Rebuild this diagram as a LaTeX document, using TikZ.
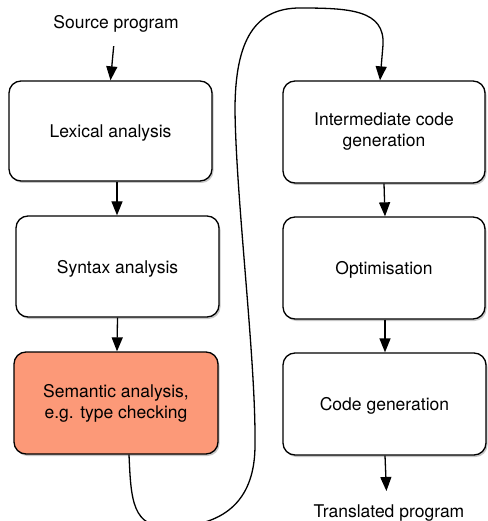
\documentclass[tikz,border=0pt]{standalone}
\usepackage{fontspec}
\setmainfont{TeX Gyre Heros}
\usetikzlibrary{arrows.meta,shadows}
\definecolor{salmon}{RGB}{252,153,120}
\begin{document}
\begin{tikzpicture}[x=1pt,y=-1pt,
  stagebox/.style={draw=black, line width=1.3pt, rounded corners=12pt, fill=white,
    align=center, font=\fontsize{17.5}{21}\selectfont, inner sep=0pt,
    execute at begin node={\rule{0pt}{17pt}},
    drop shadow={shadow xshift=1.5pt, shadow yshift=-2pt, fill=black, opacity=0.22}},
  lbl/.style={font=\fontsize{17.5}{21}\selectfont, inner sep=0pt},
  arr/.style={line width=1.3pt, -{Triangle[length=14pt,width=11pt]}},
  curve/.style={line width=1.3pt, -{Triangle[length=14pt,width=11pt]}}]
\useasboundingbox (0,0) rectangle (487,521);
\node[lbl] (src) at (116,23.5) {Source program};
\node[stagebox, minimum width=203pt, minimum height=100pt] (lex) at (110.5,131) {Lexical analysis};
\node[stagebox, minimum width=203pt, minimum height=101pt] (syn) at (117.5,266.5) {Syntax analysis};
\node[stagebox, fill=salmon, minimum width=204pt, minimum height=102pt] (sem) at (116,403) {Semantic analysis,\\e.g. type checking};
\node[stagebox, minimum width=202pt, minimum height=102pt] (int) at (384,132) {Intermediate code\\generation};
\node[stagebox, minimum width=202pt, minimum height=102pt] (opt) at (384,268) {Optimisation};
\node[stagebox, minimum width=203pt, minimum height=102pt] (cg) at (384.5,404) {Code generation};
\node[lbl] (trn) at (389,513.5) {Translated program};

\draw[arr, shorten <=14pt] ([xshift=-1pt]src.south) -- (lex.north);
\draw[arr] ([xshift=6.5pt]lex.south) -- ([xshift=-0.5pt]syn.north);
\draw[arr] (syn.south) -- ([xshift=1pt]sem.north);
\draw[arr] (int.south) -- ([xshift=1pt]opt.north);
\draw[arr] ([xshift=1pt]opt.south) -- ([xshift=0.5pt]cg.north);
\draw[arr, shorten >=14pt] ([xshift=0.5pt]cg.south) -- ([xshift=-2pt]trn.north);

\draw[curve] ([xshift=13pt]sem.south)
  .. controls (131,500) and (132,528) .. (170,527)
  .. controls (235,526) and (255,490) .. (255,445)
  .. controls (256,360) and (236,200) .. (235,110)
  .. controls (235,40) and (255,8) .. (300,8)
  .. controls (350,8) and (385,10) .. (383,45)
  -- ([xshift=-4pt]int.north);
\end{tikzpicture}
\end{document}
